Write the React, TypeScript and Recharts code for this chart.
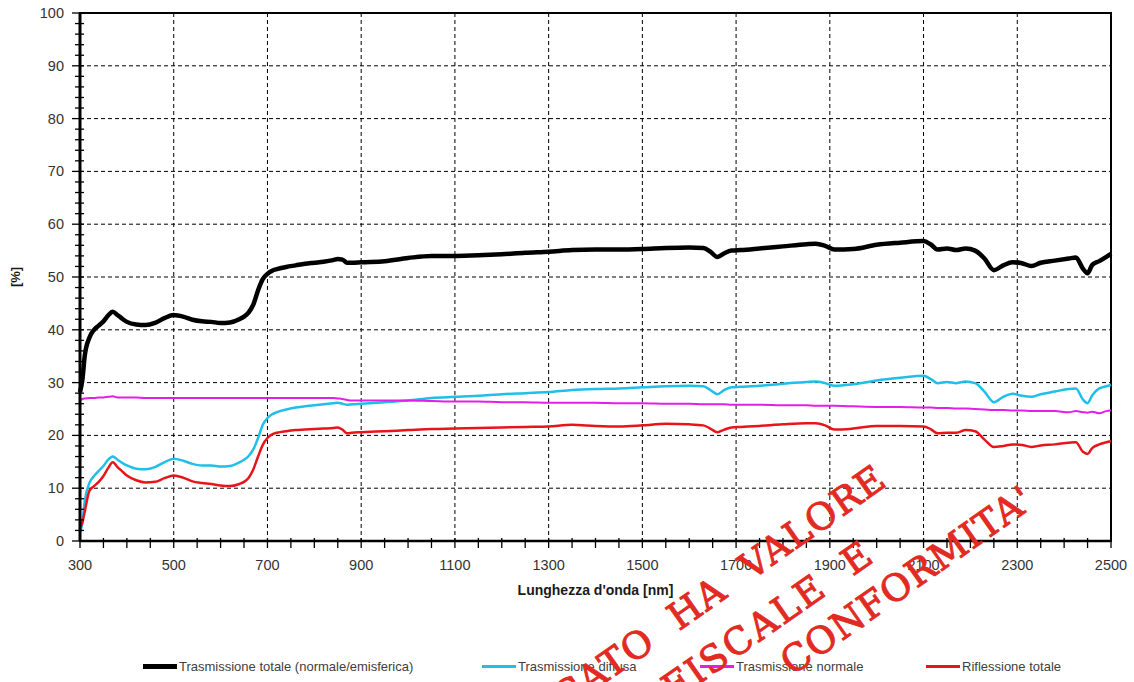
import { CartesianGrid, Legend, Line, LineChart, ReferenceArea, XAxis, YAxis } from "recharts"

// wavelength [nm]
const wavelength = [
  300, 305, 310, 320, 330, 340, 350, 360, 370, 380, 390, 400, 420, 440, 460, 480, 500, 520, 540, 560, 580, 600, 620,
  640, 650, 660, 670, 680, 690, 700, 710, 720, 740, 760, 780, 800, 820, 840, 850, 860, 870, 880, 900, 950, 1000, 1050,
  1100, 1150, 1200, 1250, 1300, 1350, 1400, 1450, 1500, 1550, 1600, 1630, 1645, 1660, 1675, 1690, 1710, 1750, 1800,
  1850, 1870, 1890, 1910, 1950, 2000, 2050, 2100, 2115, 2130, 2150, 2170, 2190, 2210, 2230, 2250, 2270, 2290, 2310,
  2330, 2350, 2380, 2410, 2425, 2440, 2450, 2460, 2475, 2490, 2500,
]

const trasmissioneTotale = [
  28.2, 30.5, 35, 38.5, 40.0, 40.8, 41.6, 42.7, 43.4, 42.8, 42.1, 41.5, 41.0, 40.9, 41.3, 42.2, 42.8, 42.5, 41.9, 41.6,
  41.5, 41.3, 41.4, 42.0, 42.5, 43.3, 44.8, 47.5, 49.6, 50.6, 51.2, 51.5, 51.9, 52.2, 52.5, 52.7, 52.9, 53.2, 53.4,
  53.3, 52.7, 52.7, 52.8, 53.0, 53.6, 54.0, 54.0, 54.1, 54.3, 54.6, 54.8, 55.1, 55.2, 55.2, 55.3, 55.5, 55.6, 55.5,
  54.8, 53.8, 54.5, 55.0, 55.1, 55.4, 55.8, 56.2, 56.3, 55.9, 55.2, 55.3, 56.1, 56.5, 56.8, 56.2, 55.2, 55.4, 55.1,
  55.4, 55.0, 53.5, 51.3, 52.2, 52.8, 52.6, 52.1, 52.7, 53.1, 53.5, 53.7, 51.6, 50.7, 52.3, 53.0, 53.8, 54.4,
]

const trasmissioneDiffusa = [
  1.5, 3.5, 7.5, 11.0, 12.3, 13.3, 14.2, 15.4, 16.0, 15.4, 14.8, 14.3, 13.7, 13.6, 14.0, 14.9, 15.6, 15.2, 14.6, 14.3,
  14.3, 14.1, 14.2, 14.9, 15.4, 16.1, 17.4, 19.5, 22.0, 23.3, 24.0, 24.4, 24.9, 25.3, 25.5, 25.7, 25.9, 26.1, 26.2,
  26.0, 25.8, 25.9, 26.0, 26.3, 26.6, 27.1, 27.3, 27.5, 27.8, 28.0, 28.2, 28.6, 28.8, 28.9, 29.1, 29.3, 29.4, 29.3,
  28.6, 27.8, 28.6, 29.1, 29.2, 29.4, 29.8, 30.1, 30.2, 29.9, 29.4, 29.7, 30.4, 30.9, 31.3, 30.7, 29.9, 30.1, 29.9,
  30.2, 29.9, 28.3, 26.3, 27.3, 27.9, 27.5, 27.3, 27.8, 28.3, 28.8, 28.9, 26.8, 26.1, 27.6, 28.9, 29.3, 29.6,
]

const trasmissioneNormale = [
  26.6, 26.9, 27.0, 27.1, 27.1, 27.2, 27.2, 27.3, 27.4, 27.2, 27.2, 27.2, 27.2, 27.1, 27.1, 27.1, 27.1, 27.1, 27.1,
  27.1, 27.1, 27.1, 27.1, 27.1, 27.1, 27.1, 27.1, 27.1, 27.1, 27.1, 27.1, 27.1, 27.1, 27.1, 27.1, 27.1, 27.1, 27.1,
  27.0, 26.9, 26.7, 26.6, 26.6, 26.6, 26.6, 26.5, 26.4, 26.4, 26.3, 26.3, 26.2, 26.2, 26.2, 26.1, 26.1, 26.0, 26.0,
  25.9, 25.9, 25.9, 25.9, 25.8, 25.8, 25.8, 25.7, 25.7, 25.6, 25.6, 25.6, 25.5, 25.4, 25.4, 25.3, 25.3, 25.2, 25.2,
  25.1, 25.1, 25.0, 24.9, 24.8, 24.8, 24.7, 24.7, 24.6, 24.6, 24.6, 24.4, 24.6, 24.4, 24.3, 24.5, 24.2, 24.6, 24.7,
]

const riflessioneTotale = [
  2.6, 3.5, 5.5, 9.5, 10.4, 11.2, 12.3, 13.8, 14.9, 14.0, 13.2, 12.4, 11.5, 11.1, 11.2, 11.9, 12.4, 12.0, 11.3, 11.0,
  10.8, 10.5, 10.4, 10.8, 11.2, 12.0, 13.6, 16.0, 18.2, 19.5, 20.2, 20.5, 20.8, 21.0, 21.1, 21.2, 21.3, 21.4, 21.5,
  21.1, 20.4, 20.5, 20.6, 20.8, 21.0, 21.2, 21.3, 21.4, 21.5, 21.6, 21.7, 22.0, 21.8, 21.7, 21.9, 22.2, 22.1, 21.9,
  21.3, 20.6, 21.1, 21.5, 21.6, 21.8, 22.1, 22.3, 22.3, 21.9, 21.1, 21.3, 21.8, 21.8, 21.7, 21.2, 20.4, 20.5, 20.5,
  21.0, 20.8, 19.2, 17.8, 18.0, 18.3, 18.2, 17.8, 18.1, 18.3, 18.6, 18.7, 16.9, 16.5, 17.6, 18.3, 18.7, 18.9,
]

const xLabels = [300, 500, 700, 900, 1100, 1300, 1500, 1700, 1900, 2100, 2300, 2500]
const yLabels = [0, 10, 20, 30, 40, 50, 60, 70, 80, 90, 100]
const xMinorTicks = Array.from({ length: 45 }, (_, i) => 300 + i * 50)
const yMinorTicks = Array.from({ length: 51 }, (_, i) => i * 2)

const series = [
  { key: "tot", name: "Trasmissione totale (normale/emisferica)", color: "#000000", width: 4.5 },
  { key: "diff", name: "Trasmissione diffusa", color: "#1fbfea", width: 2.5 },
  { key: "norm", name: "Trasmissione normale", color: "#e31ee8", width: 2 },
  { key: "rifl", name: "Riflessione totale", color: "#e8141a", width: 2.5 },
]

const data = wavelength.map((wl, i) => ({
  wl,
  tot: trasmissioneTotale[i],
  diff: trasmissioneDiffusa[i],
  norm: trasmissioneNormale[i],
  rifl: riflessioneTotale[i],
}))

const FONT = "'Liberation Sans', Arial, sans-serif"

function XTick({ x, y, payload }: any) {
  const major = xLabels.includes(payload.value)
  return (
    <g>
      <line x1={x} x2={x} y1={y - 3} y2={y + 7} stroke="#000" strokeWidth={1.3} />
      {major && (
        <text x={x} y={y + 29} textAnchor="middle" fontFamily={FONT} fontSize={14.5} fill="#333">
          {payload.value}
        </text>
      )}
    </g>
  )
}

function YTick({ x, y, payload }: any) {
  const major = yLabels.includes(payload.value)
  return (
    <g>
      <line x1={major ? x - 8 : x - 5} x2={x + 4} y1={y} y2={y} stroke="#000" strokeWidth={1.3} />
      {major && (
        <text x={x - 16} y={y + 5} textAnchor="end" fontFamily={FONT} fontSize={14.5} fill="#333">
          {payload.value}
        </text>
      )}
    </g>
  )
}

const legendLeft = [143, 482, 700, 926]

function ChartLegend() {
  return (
    <div style={{ position: "relative", width: 1134, height: 20, fontFamily: FONT, fontSize: 13, color: "#404040" }}>
      {series.map((s, i) => (
        <div
          key={s.key}
          style={{ position: "absolute", left: legendLeft[i], top: 0, display: "flex", alignItems: "center", whiteSpace: "nowrap" }}
        >
          <span style={{ display: "inline-block", width: 34, height: s.key === "tot" ? 5 : 3.5, background: s.color, marginRight: 2 }} />
          <span>{s.name}</span>
        </div>
      ))}
    </div>
  )
}

function Watermark() {
  const style = { whiteSpace: "pre" as const }
  return (
    <svg width={1134} height={682} style={{ position: "absolute", left: 0, top: 0, pointerEvents: "none" }}>
      <g
        fill="#e32a22"
        stroke="#e32a22"
        strokeWidth={1}
        fontFamily="'DejaVu Serif', 'Liberation Serif', serif"
        fontSize={37}
      >
        <text
          x={888}
          y={485}
          textAnchor="end"
          textLength={566}
          lengthAdjust="spacing"
          transform="rotate(-35 888 485)"
          style={style}
        >
          CERTIFICATO  HA  VALORE
        </text>
        <text
          x={875}
          y={561}
          textAnchor="end"
          textLength={246}
          lengthAdjust="spacing"
          transform="rotate(-35 875 561)"
          style={style}
        >
          FISCALE  E
        </text>
        <text x={792} y={676} textLength={297} lengthAdjust="spacing" transform="rotate(-35 792 676)" style={style}>
          CONFORMITA'
        </text>
      </g>
    </svg>
  )
}

export default function App() {
  return (
    <div style={{ position: "absolute", left: 0, top: 0, width: 1134, height: 682, overflow: "hidden", background: "#fff" }}>
      <LineChart width={1134} height={682} data={data} margin={{ top: 13, right: 23, bottom: 81, left: 0 }}>
        <CartesianGrid
          horizontalValues={yLabels}
          verticalValues={xLabels}
          stroke="#000"
          strokeDasharray="4 3"
          strokeWidth={1}
        />
        <XAxis
          dataKey="wl"
          type="number"
          domain={[300, 2500]}
          ticks={xMinorTicks}
          interval={0}
          tickSize={0}
          tickMargin={0}
          tick={<XTick />}
          height={60}
          axisLine={{ stroke: "#000", strokeWidth: 2.5 }}
          label={{
            value: "Lunghezza d'onda [nm]",
            position: "insideBottom",
            offset: 6,
            style: { fontFamily: FONT, fontSize: 14, fontWeight: 700, fill: "#1a1a1a" },
          }}
        />
        <YAxis
          type="number"
          domain={[0, 100]}
          ticks={yMinorTicks}
          interval={0}
          tickSize={0}
          tickMargin={0}
          tick={<YTick />}
          width={80}
          axisLine={{ stroke: "#000", strokeWidth: 3 }}
          label={{
            content: (props: any) => {
              const vb = props.viewBox
              const cx = vb.x + 15
              const cy = vb.y + vb.height / 2
              return (
                <text
                  x={cx}
                  y={cy}
                  transform={`rotate(-90 ${cx} ${cy})`}
                  textAnchor="middle"
                  dominantBaseline="central"
                  fontFamily={FONT}
                  fontSize={13}
                  fontWeight={700}
                  fill="#1a1a1a"
                >
                  [%]
                </text>
              )
            },
          }}
        />
        <ReferenceArea x1={300} x2={2500} y1={0} y2={100} fill="none" stroke="#000" strokeWidth={2} />
        {series.map((s) => (
          <Line
            key={s.key}
            dataKey={s.key}
            name={s.name}
            type="monotone"
            stroke={s.color}
            strokeWidth={s.width}
            dot={false}
            isAnimationActive={false}
          />
        ))}
        <Legend
          layout="horizontal"
          verticalAlign="middle"
          align="center"
          wrapperStyle={{ left: 0, top: 659, width: 1134 }}
          content={() => <ChartLegend />}
        />
      </LineChart>
      <Watermark />
    </div>
  )
}
